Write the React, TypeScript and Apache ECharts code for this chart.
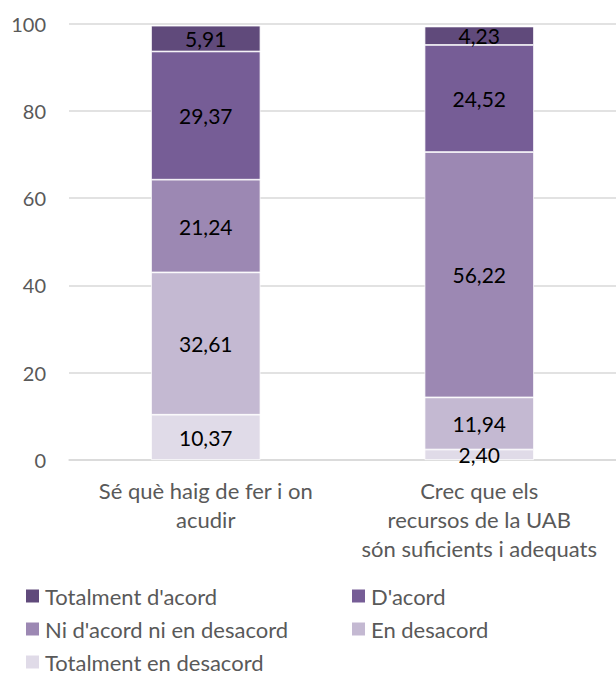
import React, { useEffect, useRef } from "react";
import * as echarts from "echarts";

const categories = [
  "Sé què haig de fer i on\nacudir",
  "Crec que els\nrecursos de la UAB\nsón suficients i adequats",
];
const seriesNames = [
  "Totalment en desacord",
  "En desacord",
  "Ni d'acord ni en desacord",
  "D'acord",
  "Totalment d'acord",
];
const totalmentEnDesacord = [10.37, 2.4];
const enDesacord = [32.61, 11.94];
const niNi = [21.24, 56.22];
const dAcord = [29.37, 24.52];
const totalmentDAcord = [5.91, 4.23];
const seriesColors = ["#e0dbe8", "#c4b9d2", "#9c88b3", "#765d96", "#604a7b"];
const yTicks = { min: 0, max: 100, interval: 20 };

// legend layout: [name, left, centerY]
const legendItems: [string, number, number][] = [
  ["Totalment d'acord", 24, 596],
  ["D'acord", 350, 596],
  ["Ni d'acord ni en desacord", 24, 629],
  ["En desacord", 350, 629],
  ["Totalment en desacord", 24, 662],
];

const FONT = "Lato, 'Open Sans', sans-serif";

export default function App() {
  const ref = useRef<HTMLDivElement>(null);
  useEffect(() => {
    if (!ref.current) return;
    const chart = echarts.init(ref.current, null, { renderer: "svg" });
    const values = [totalmentEnDesacord, enDesacord, niNi, dAcord, totalmentDAcord];
    const legendText = { fontSize: 22, color: "#595959", fontFamily: FONT, lineHeight: 22 };
    chart.setOption({
      animation: false,
      textStyle: { fontFamily: FONT },
      grid: { left: 69, right: 0, top: 23.5, bottom: 214, containLabel: false },
      xAxis: {
        type: "category",
        data: categories,
        axisLine: { show: true, lineStyle: { color: "#d9d9d9", width: 1.5 } },
        axisTick: { show: false },
        axisLabel: {
          color: "#595959",
          fontSize: 22,
          fontFamily: FONT,
          lineHeight: 29,
          margin: 16,
          interval: 0,
        },
      },
      yAxis: {
        type: "value",
        min: yTicks.min,
        max: yTicks.max,
        interval: yTicks.interval,
        axisLine: { show: false },
        axisTick: { show: false },
        splitLine: { lineStyle: { color: "#d9d9d9", width: 1.5 } },
        axisLabel: { color: "#595959", fontSize: 20, fontFamily: FONT, margin: 23 },
      },
      legend: legendItems.map(([name, left, cy]) => ({
        left,
        top: cy - 11,
        padding: 0,
        orient: "horizontal",
        itemWidth: 15,
        itemHeight: 15,
        icon: "rect",
        data: [name],
        textStyle: legendText,
        selectedMode: false,
      })),
      series: seriesNames.map((name, i) => ({
        name,
        type: "bar",
        stack: "total",
        barWidth: "40%",
        data: values[i],
        itemStyle: { color: seriesColors[i], borderColor: "#ffffff", borderWidth: 0.75 },
        label: {
          show: true,
          position: "inside",
          color: "#000000",
          fontSize: 21,
          fontFamily: FONT,
          formatter: (p: any) => Number(p.value).toFixed(2).replace(".", ","),
        },
      })),
    });
    return () => chart.dispose();
  }, []);
  return (
    <div
      ref={ref}
      style={{ position: "absolute", left: 0, top: 0, width: 616, height: 674, background: "#fff" }}
    />
  );
}
